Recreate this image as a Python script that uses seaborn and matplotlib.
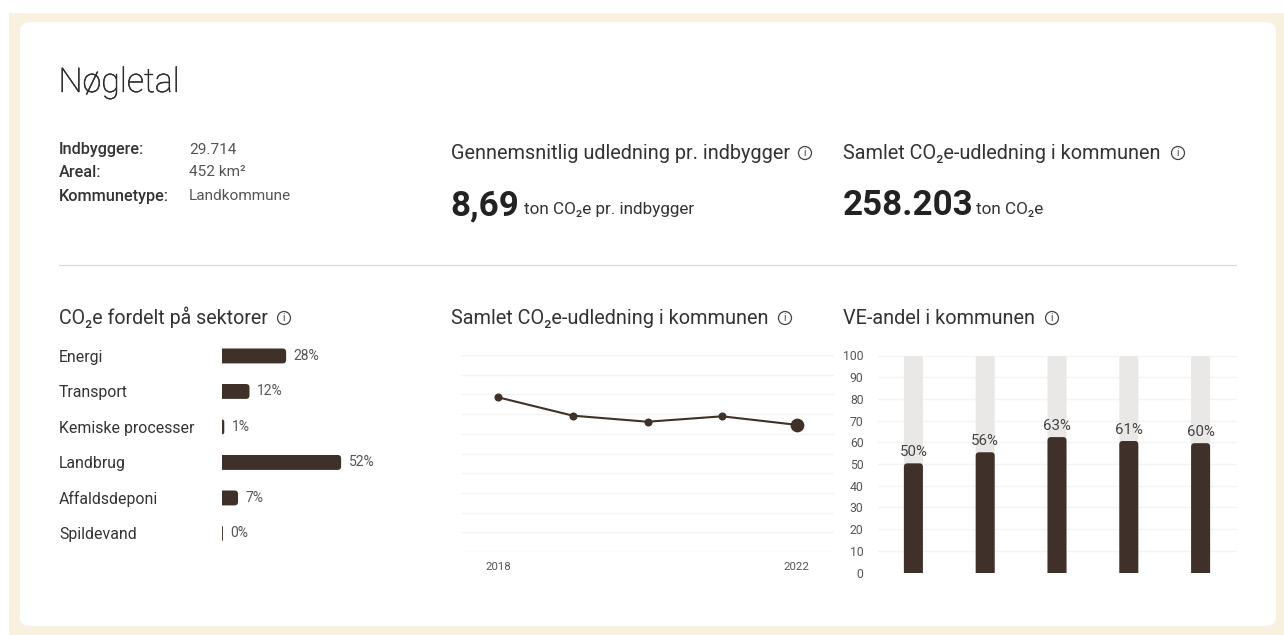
import numpy as np
import pandas as pd
import matplotlib
matplotlib.use('Agg')
import matplotlib.pyplot as plt
import matplotlib.patheffects as pe
import seaborn as sns
from matplotlib.patches import FancyBboxPatch, Circle, Rectangle
from matplotlib.transforms import IdentityTransform

# data
sectors = ['Energi', 'Transport', 'Kemiske processer', 'Landbrug', 'Affaldsdeponi', 'Spildevand']
sector_share = [28, 12, 1, 52, 7, 0.4]
sector_labels = ['28%', '12%', '1%', '52%', '7%', '0%']

years = [2018, 2019, 2020, 2021, 2022]
emissions = [314000, 276800, 264500, 275500, 258203]

ve_years = ['2018', '2019', '2020', '2021', '2022']
ve_share = [50.3, 55.4, 62.4, 60.6, 59.6]
ve_full = [100, 100, 100, 100, 100]
ve_labels = ['50%', '56%', '63%', '61%', '60%']

facts = ['Indbyggere:', 'Areal:', 'Kommunetype:']
fact_values = ['29.714', '452 km²', 'Landkommune']

W, H = 1284, 635
BROWN = '#40302a'
GRID = '#f3f3f2'
DARK = '#333333'
GREY = '#555555'
CO2 = 'CO₂e'

sns.set_theme(style='white')
plt.rcParams['font.family'] = ['Roboto', 'DejaVu Sans']

fig = plt.figure(figsize=(W / 100, H / 100), dpi=100, facecolor='white')

# page layer in pixels, y pointing down
bg = fig.add_axes([0, 0, 1, 1], zorder=0)
bg.set_xlim(0, W)
bg.set_ylim(H, 0)
bg.axis('off')
bg.add_patch(Rectangle((9, 13), W - 9, H - 13, color='#f8f1df', lw=0))
bg.add_patch(FancyBboxPatch((30, 32), 1236, 584, boxstyle='round,pad=10,rounding_size=10',
                            fc='white', ec='none'))
bg.plot([59, 1236], [265, 265], color='#d9d9d9', lw=0.9)


def px_axes(left, top, right, bottom):
    ax = fig.add_axes([left / W, 1 - bottom / H, (right - left) / W, (bottom - top) / H], zorder=1)
    ax.patch.set_alpha(0)
    return ax


def info(x, y):
    bg.add_patch(Circle((x, y), 6.5, fc='none', ec='#444444', lw=0.9))
    bg.text(x, y + 0.3, 'i', fontsize=7.5, color='#444444', ha='center', va='center')


def rounded(ax, container, radius, side, **kw):
    # swap seaborn's bars for ones with rounded ends, the axes clip the flat end
    fig.canvas.draw()
    for p in container:
        b = p.get_window_extent()
        p.set_visible(False)
        x0, y0, w, h = b.x0, b.y0, b.width, b.height
        r = min(radius, w / 2 if side == 'top' else h / 2, w if side == 'right' else h)
        if side == 'right':
            x0, w = x0 - 2 * r, w + 2 * r
        else:
            y0, h = y0 - 2 * r, h + 2 * r
        box = FancyBboxPatch((x0 + r, y0 + r), max(w - 2 * r, 0.01), max(h - 2 * r, 0.01),
                             boxstyle=f'round,pad={r},rounding_size={r}',
                             transform=IdentityTransform(), lw=0, **kw)
        ax.add_patch(box)


# headings
title = bg.text(58.5, 92, 'Nøgletal', fontsize=24.5, weight='light', color='#2b2b2b', va='baseline')
title.set_path_effects([pe.withStroke(linewidth=0.35, foreground='#2b2b2b')])
for i, (name, val) in enumerate(zip(facts, fact_values)):
    y = [149.5, 172.5, 196.5][i]
    bg.text(59, y, name, fontsize=11.7, weight='medium', color=DARK, va='center')
    bg.text(189, y, val, fontsize=11.1, color=GREY, va='center')

bg.text(451, 159, 'Gennemsnitlig udledning pr. indbygger', fontsize=14.3, color=DARK, va='baseline')
info(805, 153)
bg.text(843, 159, f'Samlet {CO2}-udledning i kommunen', fontsize=14.3, color=DARK, va='baseline')
info(1178, 153)

bg.text(450, 215, '8,69', fontsize=25.2, weight='bold', color='#222222', va='baseline')
bg.text(524, 214, f'ton {CO2} pr. indbygger', fontsize=12.3, color=DARK, va='baseline')
bg.text(843, 215, '258.203', fontsize=25.2, weight='bold', color='#222222', va='baseline')
bg.text(976, 214, f'ton {CO2}', fontsize=12.3, color=DARK, va='baseline')

bg.text(59, 324, f'{CO2} fordelt på sektorer', fontsize=14.1, color=DARK, va='baseline')
info(284, 318)
bg.text(451, 324, f'Samlet {CO2}-udledning i kommunen', fontsize=14.3, color=DARK, va='baseline')
info(785, 318)
bg.text(843, 324, 'VE-andel i kommunen', fontsize=14.3, color=DARK, va='baseline')
info(1052, 318)

# sector bars
ax1 = px_axes(222, 338.2, 430, 551.2)
sector_df = pd.DataFrame({'sector': sectors, 'share': sector_share})
sns.barplot(data=sector_df, x='share', y='sector', color=BROWN, saturation=1, width=0.42, ax=ax1)
ax1.set_xlim(0, 90.8)
ax1.set_ylim(5.5, -0.5)
ax1.bar_label(ax1.containers[0], labels=sector_labels, padding=5.3, fontsize=10, color=GREY)
ax1.set_xlabel('')
ax1.set_ylabel('')
ax1.set_xticks([])
ax1.tick_params(axis='y', length=0, pad=117.4, labelsize=11.4, labelcolor=DARK)
for lab in ax1.get_yticklabels():
    lab.set_ha('left')
sns.despine(ax=ax1, left=True, bottom=True)
rounded(ax1, ax1.containers[0], 3.5, 'right', fc=BROWN)

# total emissions line
ax2 = px_axes(461, 355, 834, 552)
line_df = pd.DataFrame({'year': years, 'co2': emissions})
sns.lineplot(data=line_df, x='year', y='co2', color=BROWN, lw=1.5, marker='o', markersize=5.8,
             markeredgewidth=0, ax=ax2, clip_on=False)
sns.scatterplot(data=line_df.tail(1), x='year', y='co2', color=BROWN, s=98, linewidth=0, ax=ax2,
                zorder=5, clip_on=False)
ax2.set_xlim(2017.5, 2022.5)
ax2.set_ylim(0, 400000)
ax2.set_yticks(np.arange(0, 400001, 40000))
ax2.set_yticklabels([])
ax2.set_xticks([years[0], years[-1]])
ax2.set_xticklabels([str(years[0]), str(years[-1])])
ax2.tick_params(axis='both', length=0)
ax2.tick_params(axis='x', labelsize=8.2, labelcolor=GREY, pad=7)
ax2.grid(axis='y', color=GRID, lw=1)
ax2.set_axisbelow(True)
ax2.set_xlabel('')
ax2.set_ylabel('')
sns.despine(ax=ax2, left=True, bottom=True)

# VE share bars
ax3 = px_axes(877.5, 355.5, 1236.5, 572.5)
ve_df = pd.DataFrame({'year': ve_years, 'share': ve_share, 'full': ve_full})
sns.barplot(data=ve_df, x='year', y='full', color='#e9e8e6', saturation=1, width=0.265, ax=ax3)
sns.barplot(data=ve_df, x='year', y='share', color=BROWN, saturation=1, width=0.265, ax=ax3)
ax3.set_xlim(-0.5, 4.5)
ax3.set_ylim(0, 100)
ax3.bar_label(ax3.containers[1], labels=ve_labels, padding=3, fontsize=10.8, color='#444444')
ax3.set_yticks(np.arange(0, 101, 10))
ax3.set_xticks([])
ax3.tick_params(axis='y', length=0, pad=10, labelsize=8.8, labelcolor=GREY)
ax3.grid(axis='y', color=GRID, lw=1)
ax3.set_axisbelow(True)
ax3.set_xlabel('')
ax3.set_ylabel('')
sns.despine(ax=ax3, left=True, bottom=True)
rounded(ax3, ax3.containers[0], 3.5, 'top', fc='#e9e8e6')
rounded(ax3, ax3.containers[1], 3.5, 'top', fc=BROWN)

fig.savefig('out.png', dpi=100)
